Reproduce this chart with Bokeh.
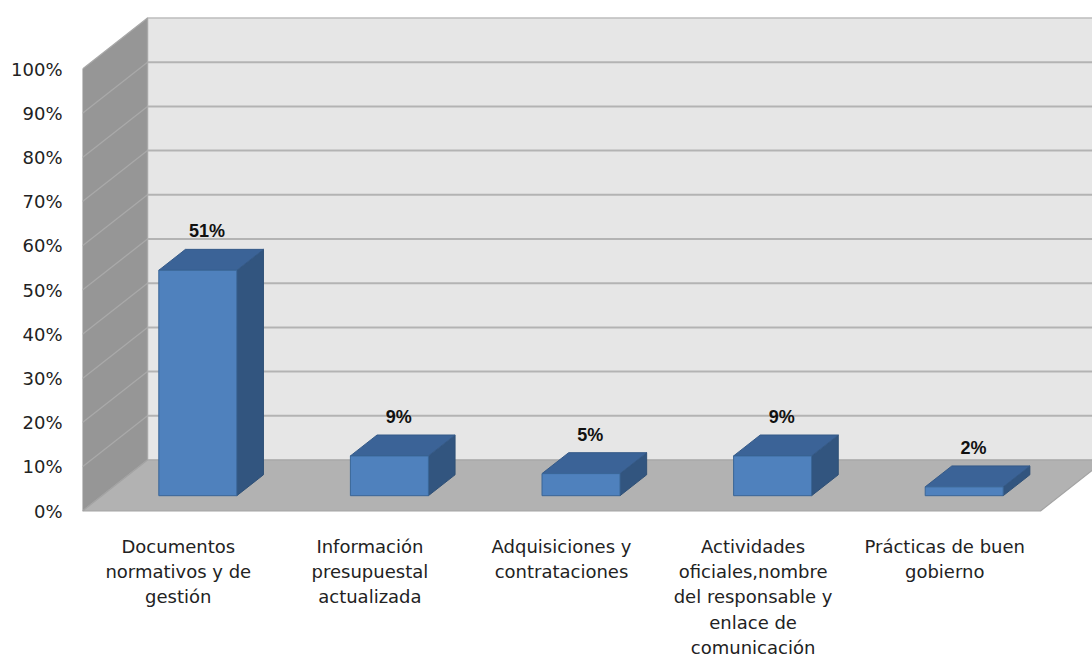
from bokeh.plotting import figure
from bokeh.models import Range1d, LinearAxis, FixedTicker, PrintfTickFormatter
from bokeh.embed import file_html
from bokeh.resources import INLINE
from bokeh.core.properties import value

# ---------------- data ----------------
categories = [
    "Documentos\nnormativos y de\ngestión",
    "Información\npresupuestal\nactualizada",
    "Adquisiciones y\ncontrataciones",
    "Actividades\noficiales,nombre\ndel responsable y\nenlace de\ncomunicación",
    "Prácticas de buen\ngobierno",
]
values = [51, 9, 5, 9, 2]
value_labels = ["51%", "9%", "5%", "9%", "2%"]
y_ticks = [0, 10, 20, 30, 40, 50, 60, 70, 80, 90, 100]

# ---------------- layout (pixels) ----------------
W, H = 1092, 661
LEFT = 82            # frame left = front-left corner of the 3D box
PX_PER_CAT = 191.6   # pixels per category slot
PX_PER_PCT = 4.42    # pixels per percent
ZERO_Y = 510.5       # canvas y of the 0% front edge
DEPTH_PX_X, DEPTH_PX_Y = 65.0, 51.0
BAR_W_PX = 78.0
D0, D1 = 0.30, 0.71  # bar depth span as fraction of box depth

n = len(categories)
x_end = (W - LEFT) / PX_PER_CAT
y_top = ZERO_Y / PX_PER_PCT
y_bot = -(H - ZERO_Y) / PX_PER_PCT
DX = DEPTH_PX_X / PX_PER_CAT
DY = DEPTH_PX_Y / PX_PER_PCT
BW = BAR_W_PX / PX_PER_CAT
vmax = y_ticks[-1]

p = figure(width=W, height=H, x_range=Range1d(0, x_end), y_range=Range1d(y_bot, y_top),
           x_axis_type=None, y_axis_type=None, toolbar_location=None,
           output_backend="svg", min_border_left=LEFT, min_border_right=0,
           min_border_top=0, min_border_bottom=0, outline_line_color=None,
           background_fill_color="white", border_fill_color="white")

# back wall
p.patch([DX, n + DX, n + DX, DX], [DY, DY, vmax + DY, vmax + DY],
        fill_color="#e6e6e6", line_color="#bdbdbd", line_width=1.5)
# side wall
p.patch([0, DX, DX, 0], [0, DY, vmax + DY, vmax],
        fill_color="#969696", line_color="#a8a8a8", line_width=1.2)
# floor
p.patch([0, n, n + DX, DX], [0, 0, DY, DY],
        fill_color="#b2b2b2", line_color="#a3a3a3", line_width=1.2)

# gridlines on back wall and side wall
inner = y_ticks[1:-1]
p.multi_line([[DX, n + DX] for t in inner], [[t + DY, t + DY] for t in inner],
             line_color="#b3b3b3", line_width=2)
p.multi_line([[0, DX] for t in inner], [[t, t + DY] for t in inner],
             line_color="#a9a9a9", line_width=1.3)

# bars
dd = D1 - D0
fx, fy, tx, ty, sx, sy = [], [], [], [], [], []
for i, v in enumerate(values):
    cx = i + 0.5
    xl = cx - BW / 2 + D0 * DX
    xr = xl + BW
    y0 = D0 * DY
    y1 = v + y0
    fx.append([xl, xr, xr, xl]); fy.append([y0, y0, y1, y1])
    tx.append([xl, xr, xr + dd * DX, xl + dd * DX]); ty.append([y1, y1, y1 + dd * DY, y1 + dd * DY])
    sx.append([xr, xr + dd * DX, xr + dd * DX, xr]); sy.append([y0, y0 + dd * DY, y1 + dd * DY, y1])

p.patches(sx, sy, fill_color="#32557f", line_color="#2f5076", line_width=1)
p.patches(tx, ty, fill_color="#3b6397", line_color="#355a88", line_width=1)
p.patches(fx, fy, fill_color="#4f81bd", line_color="#3a6697", line_width=1)

# value labels
p.text(x=[i + 0.5 + 0.15 for i in range(n)], y=[v + D0 * DY for v in values], text=value_labels,
       text_align="center", text_baseline="middle", y_offset=-39,
       text_font=value("Liberation Sans"), text_font_style="bold", text_font_size="18px",
       text_color="#111111")

# category labels
p.text(x=[i + 0.5 for i in range(n)], y=[0] * n, text=categories,
       text_align="center", text_baseline="top", y_offset=25,
       text_font=value("DejaVu Sans"), text_font_size="18px", text_line_height=1.2,
       text_color="#222222")

# y axis
ax = LinearAxis(ticker=FixedTicker(ticks=y_ticks), formatter=PrintfTickFormatter(format="%d%%"),
                axis_line_color=None, major_tick_line_color=None, minor_tick_line_color=None,
                major_tick_out=0, major_label_standoff=20,
                major_label_text_font="DejaVu Sans", major_label_text_font_size="18px",
                major_label_text_color="#222222")
p.add_layout(ax, "left")

open("out.html", "w").write(file_html(p, INLINE))
